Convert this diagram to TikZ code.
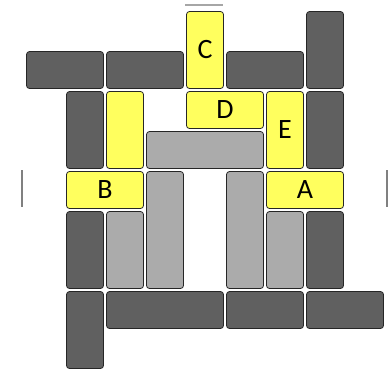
\documentclass[tikz,border=0pt]{standalone}
\usepackage{fontspec}
\setmainfont{Carlito}
\usepackage{tikz}
\definecolor{PzDark}  {HTML}{606060}
\definecolor{PzLight} {HTML}{ABABAB}
\definecolor{PzYellow}{HTML}{FFFF5E}
\definecolor{PzMark}  {HTML}{808080}
\begin{document}
\begin{tikzpicture}[x=40pt,y=-40pt,
    blk/.style={draw=black!85,rounded corners=3pt,line width=0.8pt,
                inner sep=0pt,font=\fontsize{28}{28}\selectfont},
    dk/.style={blk,fill=PzDark},
    lt/.style={blk,fill=PzLight},
    gl/.style={blk,fill=PzYellow},
    h2/.style={minimum width=77pt,minimum height=37pt},
    h3/.style={minimum width=117pt,minimum height=37pt},
    v2/.style={minimum width=37pt,minimum height=77pt},
    v3/.style={minimum width=37pt,minimum height=117pt},
    mk/.style={draw=PzMark,line width=1.7pt}
  ]
    \useasboundingbox (-0.625,-0.25) rectangle (9.1,8.95);
    % goal pieces
    \node[gl,v2] (c) at (4.5,1.0) {C};
    \node[gl,h2] (d) at (5.0,2.5) {D};
    \node[gl,v2] (e) at (6.5,3.0) {E};
    \node[gl,h2] (b) at (2.0,4.5) {B};
    \node[gl,h2] (a) at (7.0,4.5) {A};
    \node[gl,v2] (y1) at (2.5,3.0) {};
    % light blocks
    \node[lt,h3] (l1) at (4.5,3.5) {};
    \node[lt,v3] (l2) at (3.5,5.5) {};
    \node[lt,v3] (l3) at (5.5,5.5) {};
    \node[lt,v2] (l4) at (2.5,6.0) {};
    \node[lt,v2] (l5) at (6.5,6.0) {};
    % dark blocks
    \foreach \n/\p in {k1/{(1,1.5)},k2/{(3,1.5)},k3/{(6,1.5)},k4/{(6,7.5)},k5/{(8,7.5)}}
      \node[dk,h2] (\n) at \p {};
    \foreach \n/\p in {k6/{(7.5,1)},k7/{(1.5,3)},k8/{(7.5,3)},k9/{(1.5,6)},k10/{(7.5,6)},k11/{(1.5,8)}}
      \node[dk,v2] (\n) at \p {};
    \node[dk,h3] (k12) at (3.5,7.5) {};
    % exits
    \draw[mk,draw=PzMark!70] (4,-0.125) -- (4.95,-0.125);
    \draw[mk] (-0.075,4.0) -- (-0.075,4.92);
    \draw[mk] (9.05,4.0) -- (9.05,4.92);
\end{tikzpicture}
\end{document}
